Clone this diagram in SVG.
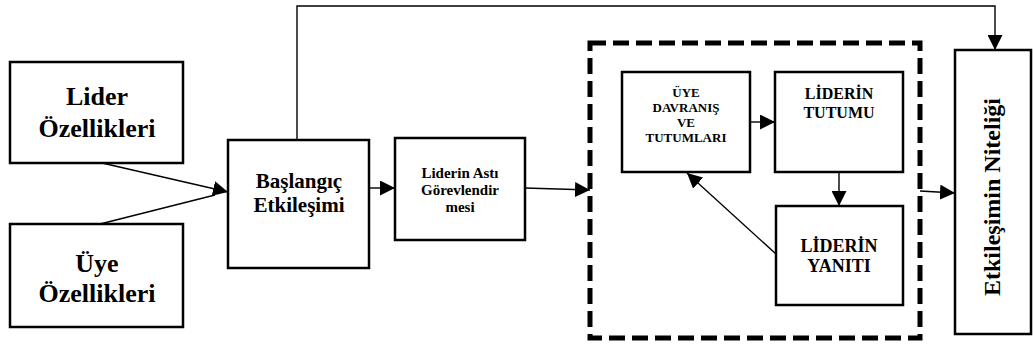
<svg xmlns="http://www.w3.org/2000/svg" width="1033" height="347" viewBox="0 0 1033 347">
  <style>
    .box { fill: #ffffff; stroke: #000000; stroke-width: 2.5; }
    .group { fill: none; stroke: #000000; stroke-width: 5; stroke-dasharray: 16 7; }
    .edge { fill: none; stroke: #000000; stroke-width: 1.4; }
    text { font-family: 'Liberation Serif', 'Times New Roman', Times, serif; font-weight: 700; fill: #000000; text-anchor: middle; }
  </style>
  <defs>
    <marker id="arrow" viewBox="0 0 15 15" markerWidth="15" markerHeight="15" refX="15" refY="7.5" orient="auto" markerUnits="userSpaceOnUse">
      <path d="M0,0 L15,7.5 L0,15 Z" fill="#000000"/>
    </marker>
  </defs>

  <rect width="1033" height="347" fill="#ffffff"/>

  <!-- dashed frame around the interaction loop -->
  <rect class="group" x="590" y="43" width="330" height="295"/>

  <g id="connectors">
    <line class="edge" x1="102" y1="163" x2="228" y2="192" marker-end="url(#arrow)"/>
    <line class="edge" x1="100" y1="224" x2="215" y2="195"/>
    <line class="edge" x1="369" y1="188" x2="395" y2="188" marker-end="url(#arrow)"/>
    <line class="edge" x1="525" y1="188" x2="590" y2="190" marker-end="url(#arrow)"/>
    <line class="edge" x1="750" y1="122" x2="775" y2="122" marker-end="url(#arrow)"/>
    <line class="edge" x1="839" y1="172" x2="839" y2="206" marker-end="url(#arrow)"/>
    <line class="edge" x1="776" y1="254" x2="687" y2="173" marker-end="url(#arrow)"/>
    <line class="edge" x1="920" y1="191" x2="955" y2="193" marker-end="url(#arrow)"/>
    <polyline class="edge" points="297,140 297,6 995,6 995,50" marker-end="url(#arrow)"/>
  </g>

  <g id="lider-ozellikleri">
    <rect class="box" x="10" y="62" width="173" height="101"/>
    <text font-family="Liberation Serif, serif" font-size="26" x="97" y="105">Lider</text>
    <text font-family="Liberation Serif, serif" font-size="26" x="97" y="137">Özellikleri</text>
  </g>

  <g id="uye-ozellikleri">
    <rect class="box" x="10" y="224" width="173" height="103"/>
    <text font-size="26" x="97" y="272">Üye</text>
    <text font-size="26" x="97" y="302">Özellikleri</text>
  </g>

  <g id="baslangic">
    <rect class="box" x="228" y="140" width="141" height="128"/>
    <text font-size="21" x="299" y="188">Başlangıç</text>
    <text font-size="21" x="299" y="212">Etkileşimi</text>
  </g>

  <g id="gorevlendirme">
    <rect class="box" x="395" y="138" width="130" height="102"/>
    <text font-size="15" x="460" y="178">Liderin Astı</text>
    <text font-size="15" x="460" y="195">Görevlendir</text>
    <text font-size="15" x="460" y="212">mesi</text>
  </g>

  <g id="uye-davranis">
    <rect class="box" x="622" y="72" width="128" height="100"/>
    <text font-size="13" x="686" y="97">ÜYE</text>
    <text font-size="13" x="686" y="112">DAVRANIŞ</text>
    <text font-size="13" x="686" y="127">VE</text>
    <text font-size="13" x="686" y="142">TUTUMLARI</text>
  </g>

  <g id="liderin-tutumu">
    <rect class="box" x="775" y="72" width="128" height="100"/>
    <text font-size="16" x="839" y="99">LİDERİN</text>
    <text font-size="16" x="839" y="118">TUTUMU</text>
  </g>

  <g id="liderin-yaniti">
    <rect class="box" x="776" y="206" width="127" height="99"/>
    <text font-size="18" x="839" y="252">LİDERİN</text>
    <text font-size="18" x="839" y="272">YANITI</text>
  </g>

  <g id="etkilesim-niteligi">
    <rect class="box" x="955" y="50" width="76" height="284"/>
    <text font-size="24" transform="translate(1000,197) rotate(-90)" x="0" y="0">Etkileşimin Niteliği</text>
  </g>
</svg>
